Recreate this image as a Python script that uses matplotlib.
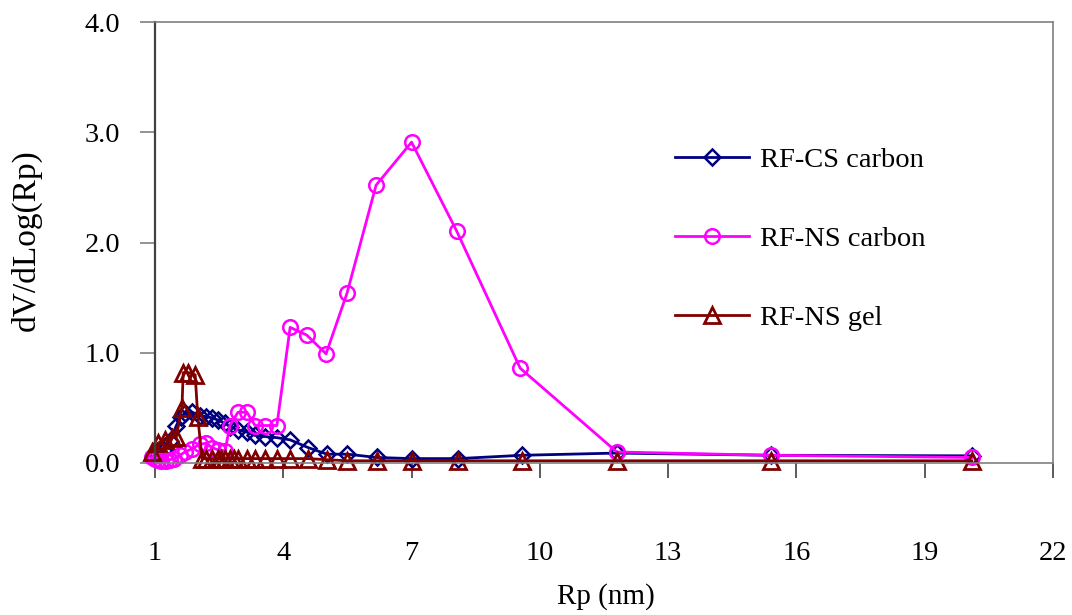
import numpy as np
import matplotlib
matplotlib.use("Agg")
import matplotlib.pyplot as plt

plt.rcParams['font.family'] = ['Liberation Serif', 'DejaVu Serif']

# RF-CS carbon (navy diamonds)
cs_rp = [1.05, 1.2, 1.35, 1.5, 1.6, 1.7, 1.87, 2.05, 2.2, 2.33, 2.47, 2.64, 2.75,
         2.94, 3.15, 3.34, 3.57, 3.85, 4.16, 4.58, 5.02, 5.5, 6.19, 7.0, 8.09,
         9.58, 11.8, 15.4, 20.1]
cs_dv = [0.08, 0.12, 0.2, 0.34, 0.42, 0.45, 0.46, 0.43, 0.42, 0.41, 0.39, 0.36, 0.33,
         0.30, 0.28, 0.25, 0.24, 0.23, 0.21, 0.14, 0.08, 0.08, 0.05, 0.04, 0.04,
         0.07, 0.09, 0.07, 0.065]

# RF-NS carbon (magenta circles)
ns_rp = [0.92, 1.0, 1.07, 1.15, 1.25, 1.35, 1.45, 1.58, 1.7, 1.87, 2.05, 2.2, 2.33,
         2.47, 2.64, 2.75, 2.94, 3.15, 3.34, 3.57, 3.85, 4.16, 4.55, 5.0, 5.49,
         6.17, 7.0, 8.06, 9.54, 11.8, 15.4, 20.1]
ns_dv = [0.05, 0.04, 0.03, 0.02, 0.02, 0.03, 0.04, 0.07, 0.10, 0.13, 0.17, 0.18, 0.14,
         0.12, 0.11, 0.34, 0.46, 0.46, 0.34, 0.34, 0.34, 1.23, 1.16, 0.99, 1.54,
         2.52, 2.91, 2.10, 0.86, 0.10, 0.07, 0.05]

# RF-NS gel (dark red triangles)
gel_rp = [0.92, 1.07, 1.23, 1.4, 1.5, 1.63, 1.66, 1.78, 1.94, 2.0, 2.1, 2.2, 2.33,
          2.47, 2.55, 2.64, 2.75, 2.85, 2.94, 3.15, 3.34, 3.57, 3.85, 4.16, 4.58,
          5.02, 5.5, 6.19, 7.0, 8.09, 9.58, 11.8, 15.4, 20.1]
gel_dv = [0.10, 0.18, 0.21, 0.23, 0.24, 0.50, 0.82, 0.82, 0.80, 0.42, 0.04, 0.04, 0.04,
          0.04, 0.04, 0.04, 0.04, 0.04, 0.04, 0.04, 0.04, 0.04, 0.04, 0.04, 0.04,
          0.03, 0.02, 0.02, 0.02, 0.02, 0.02, 0.02, 0.02, 0.02]

x_ticks = [1, 4, 7, 10, 13, 16, 19, 22]
y_ticks = [0.0, 1.0, 2.0, 3.0, 4.0]

fig = plt.figure(figsize=(10.72, 6.15), dpi=100)
ax = fig.add_axes([155 / 1072, 1 - 463 / 615, 898 / 1072, 441 / 615])

ax.plot(cs_rp, cs_dv, color='#000080', lw=2, marker='D', ms=8.5, mfc='none',
        mec='#000080', mew=1.8, label='RF-CS carbon', clip_on=False)
ax.plot(ns_rp, ns_dv, color='#FF00FF', lw=2, marker='o', ms=10.5, mfc='none',
        mec='#FF00FF', mew=1.8, label='RF-NS carbon', clip_on=False)
ax.plot(gel_rp, gel_dv, color='#800000', lw=2, marker='^', ms=12, mfc='none',
        mec='#800000', mew=2, label='RF-NS gel', clip_on=False)

ax.set_xlim(1, 22)
ax.set_ylim(0, 4)
ax.set_xticks(x_ticks)
ax.set_yticks(y_ticks)
ax.set_yticklabels([f'{v:.1f}' for v in y_ticks])

for s in ['top', 'right', 'bottom']:
    ax.spines[s].set_color('#808080')
    ax.spines[s].set_linewidth(1.2)
ax.spines['left'].set_color('#404040')
ax.spines['left'].set_linewidth(1.6)

ax.tick_params(axis='x', direction='out', length=11, width=1.2, color='#404040',
               labelsize=20.5, pad=45)
ax.tick_params(axis='y', direction='out', length=11, width=1.2, color='#808080',
               labelsize=20.5, pad=14)

ax.set_xlabel('Rp (nm)', fontsize=21)
ax.set_ylabel('dV/dLog(Rp)', fontsize=24)
ax.xaxis.set_label_coords(0.502, -0.272)
ax.yaxis.set_label_coords(-0.126, 0.506)

ax.legend(loc='center left', bbox_to_anchor=(0.579, 0.508), frameon=False,
          fontsize=20.5, numpoints=1, handlelength=2.6, handletextpad=0.4,
          labelspacing=1.85, borderpad=0, borderaxespad=0)

fig.savefig('out.png', dpi=100)
